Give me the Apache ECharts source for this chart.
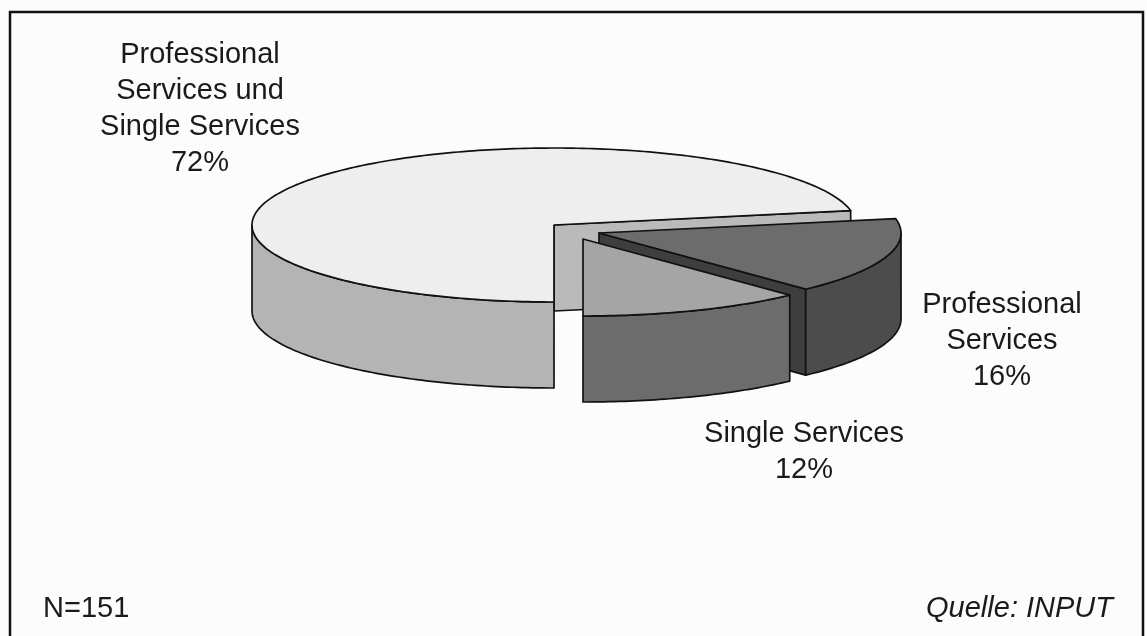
<!DOCTYPE html>
<html>
<head>
<meta charset="utf-8">
<script src="https://cdn.jsdelivr.net/npm/echarts@6/dist/echarts.min.js"></script>
<style>
  html, body { margin: 0; padding: 0; background: #fcfcfc; }
  #chart { width: 1147px; height: 636px; }
</style>
</head>
<body>
<div id="chart"></div>
<script>
// Survey split (share of respondents, %)
const categories = ['Professional\nServices und\nSingle Services', 'Professional\nServices', 'Single Services'];
const shares = [72, 16, 12];
const sampleSize = 151;
const sourceNote = 'Quelle: INPUT';

// Geometry of the extruded (3D-look) pie
const pie = { cx: 554, cy: 225, rx: 302, ry: 77, depth: 86, startAngle: 90 };
const sliceStyles = [
  { top: '#eeeeee', wall: '#b4b4b4', face: '#bababa', shift: [0, 0],   label: [200, 109] },
  { top: '#6c6c6c', wall: '#4c4c4c', face: '#3e3e3e', shift: [45, 8],  label: [1002, 341] },
  { top: '#a5a5a5', wall: '#6c6c6c', face: '#585858', shift: [29, 14], label: [804, 452] }
];
const textFont = '29px "Liberation Sans", Arial, Helvetica, sans-serif';
const textColor = '#1a1a1a';

const total = shares.reduce((a, b) => a + b, 0);
let acc = 0;
const spans = shares.map(v => {
  const a0 = pie.startAngle + acc / total * 360;
  acc += v;
  return [a0, pie.startAngle + acc / total * 360];
});
const rad = d => d * Math.PI / 180;
// back-to-front drawing order by the slice's middle direction
const order = shares.map((_, i) => i).sort((p, q) =>
  Math.sin(rad((spans[p][0] + spans[p][1]) / 2)) - Math.sin(rad((spans[q][0] + spans[q][1]) / 2)));

function pt(i, a, down) {
  const s = sliceStyles[i].shift;
  return [pie.cx + s[0] + pie.rx * Math.cos(rad(a)),
          pie.cy + s[1] + pie.ry * Math.sin(rad(a)) + (down ? pie.depth : 0)];
}
function arc(i, a0, a1, down) {
  const n = Math.max(2, Math.ceil(Math.abs(a1 - a0)));
  const pts = [];
  for (let k = 0; k <= n; k++) pts.push(pt(i, a0 + (a1 - a0) * k / n, down));
  return pts;
}
function poly(points, fill, z2) {
  return {
    type: 'polygon', z2: z2, silent: true,
    shape: { points: points },
    style: { fill: fill, stroke: '#111', lineWidth: 1.7, lineJoin: 'round' }
  };
}

function renderItem(params, api) {
  const i = params.dataIndex;
  const [a0, a1] = spans[i];
  const st = sliceStyles[i];
  const c = [pie.cx + st.shift[0], pie.cy + st.shift[1]];
  const cb = [c[0], c[1] + pie.depth];
  const base = order.indexOf(i) * 10;
  const children = [];
  // radial cut faces that turn toward the viewer
  if (Math.cos(rad(a0)) < -1e-6) children.push(poly([c, pt(i, a0), pt(i, a0, true), cb], st.face, base + 1));
  if (Math.cos(rad(a1)) > 1e-6) children.push(poly([c, pt(i, a1), pt(i, a1, true), cb], st.face, base + 1));
  // outer rim, front half only
  for (let k = -1; k <= 2; k++) {
    const lo = Math.max(a0, 360 * k), hi = Math.min(a1, 360 * k + 180);
    if (hi > lo) children.push(poly(arc(i, lo, hi, false).concat(arc(i, hi, lo, true)), st.wall, base + 2));
  }
  // top surface
  children.push(poly([c].concat(arc(i, a0, a1, false)), st.top, base + 3));
  // label
  children.push({
    type: 'text', z2: 200, silent: true,
    style: {
      text: categories[i] + '\n' + api.value(0) + '%',
      x: st.label[0], y: st.label[1],
      font: textFont, fill: textColor,
      align: 'center', verticalAlign: 'middle', lineHeight: 36
    }
  });
  return { type: 'group', children: children };
}

const chart = echarts.init(document.getElementById('chart'), null, { renderer: 'canvas' });
chart.setOption({
  animation: false,
  backgroundColor: '#fcfcfc',
  series: [{
    type: 'custom',
    coordinateSystem: 'none',
    renderItem: renderItem,
    data: shares.map(v => [v])
  }],
  graphic: [
    { type: 'rect', silent: true, z: 0,
      shape: { x: 10, y: 12, width: 1133, height: 700 },
      style: { fill: 'none', stroke: '#111', lineWidth: 2.5 } },
    { type: 'text', silent: true, x: 43, y: 609,
      style: { text: 'N=' + sampleSize, font: textFont, fill: textColor, align: 'left', verticalAlign: 'middle' } },
    { type: 'text', silent: true, x: 1113, y: 609,
      style: { text: sourceNote, font: 'italic ' + textFont, fill: textColor, align: 'right', verticalAlign: 'middle' } }
  ]
});
</script>
</body>
</html>
